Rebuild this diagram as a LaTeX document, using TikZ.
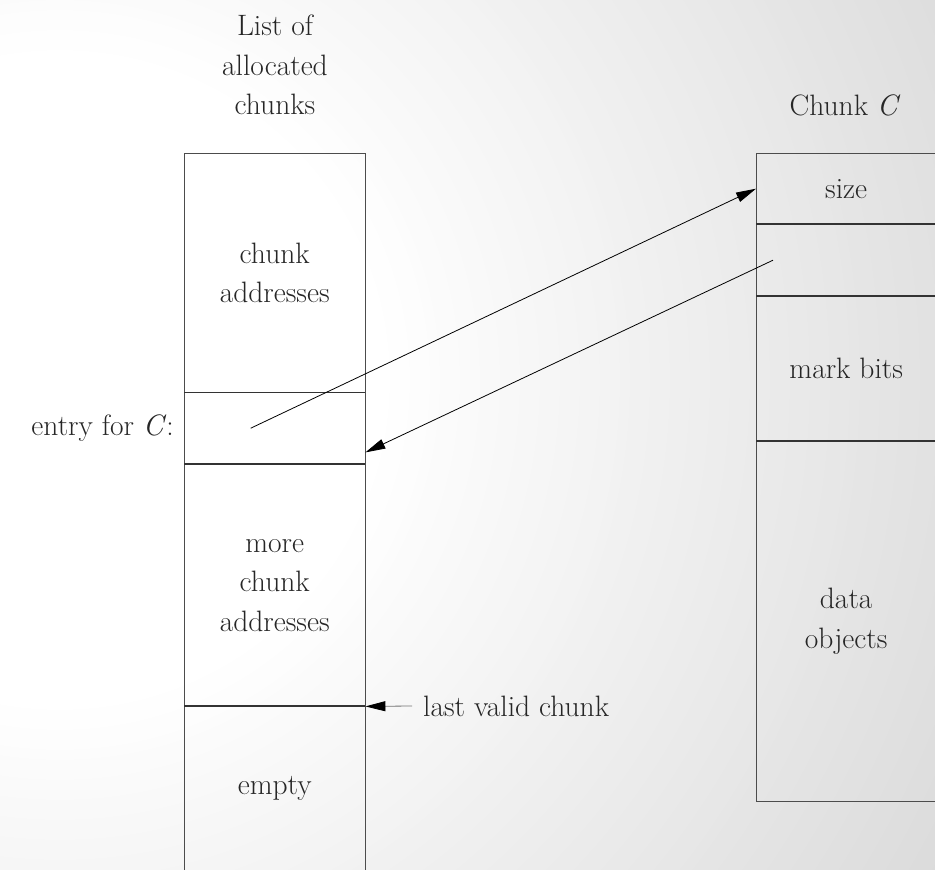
\documentclass[tikz,border=0pt]{standalone}
\usetikzlibrary{arrows.meta,calc}
\begin{document}
\begin{tikzpicture}[x=1pt,y=-1pt,
  txt/.style={font=\fontsize{29.5}{39.5}\selectfont, text=black!85, align=center, inner sep=0pt},
  lcell/.style={txt, minimum width=181pt, anchor=north west},
  rcell/.style={txt, minimum width=180pt, anchor=north west},
  border/.style={draw=black!70, line width=1pt},
  divider/.style={draw=black!80, line width=2pt},
  conn/.style={draw=black, line width=0.8pt, -{Triangle[length=20pt,width=10pt,color=black]}}]
\clip (0,0) rectangle (935,870);
% background: radial fade from white (left) to light grey (right)
\fill[black!16] (0,0) rectangle (935,870);
\foreach \r in {1100,1090,...,320} {
  \pgfmathsetmacro\p{max(0,16*(\r-324)/776)}
  \fill[black!\p] (60,380) circle (\r pt);
}

% left column
\node[lcell, minimum height=239pt] (ca) at (184,153) {chunk\\addresses};
\node[lcell, minimum height=72pt] (entry) at (184,392) {};
\node[lcell, minimum height=242pt] (more) at (184,464) {more\\chunk\\addresses};
\node[lcell, minimum height=164pt] (empty) at (184,706) {empty};
\draw[border] (ca.north west) -- (ca.north east);
\draw[border] (ca.north west) -- (empty.south west);
\draw[border] (ca.north east) -- (empty.south east);
\draw[divider, line width=1.6pt] (ca.south west) -- (ca.south east);
\draw[divider] (entry.south west) -- (entry.south east);
\draw[divider] (more.south west) -- (more.south east);

% right column
\node[rcell, minimum height=71pt] (size) at (756,153) {size};
\node[rcell, minimum height=72pt] (ptr) at (756,224) {};
\node[rcell, minimum height=145pt] (mark) at (756,296) {mark bits};
\node[rcell, minimum height=360pt] (data) at (756,441) {data\\objects};
\draw[border] (size.north west) rectangle (data.south east);
\draw[divider] (size.south west) -- (size.south east);
\draw[divider] (ptr.south west) -- (ptr.south east);
\draw[divider] (mark.south west) -- (mark.south east);

% labels
\node[txt] (title1) at (275,65) {List of\\allocated\\chunks};
\node[txt] (title2) at (845,105) {Chunk \textit{C}};
\node[txt, anchor=east] (entrylbl) at (174,428) {entry for \textit{C}:};
\node[txt, anchor=west, inner xsep=11pt] (lvc) at (412,706) {last valid chunk};

% connectors
\coordinate (srcA) at ($(entry.center)+(-24,0)$);
\coordinate (srcB) at ($(ptr.west)+(17,0)$);
\coordinate (tipB) at ($(entry.south east)+(0,-12)$);
\draw[conn] (srcA) -- (size.west);
\draw[conn] (srcB) -- (tipB);
\draw[conn, draw=black!55] (lvc.west) -- (more.south east);
\end{tikzpicture}
\end{document}
